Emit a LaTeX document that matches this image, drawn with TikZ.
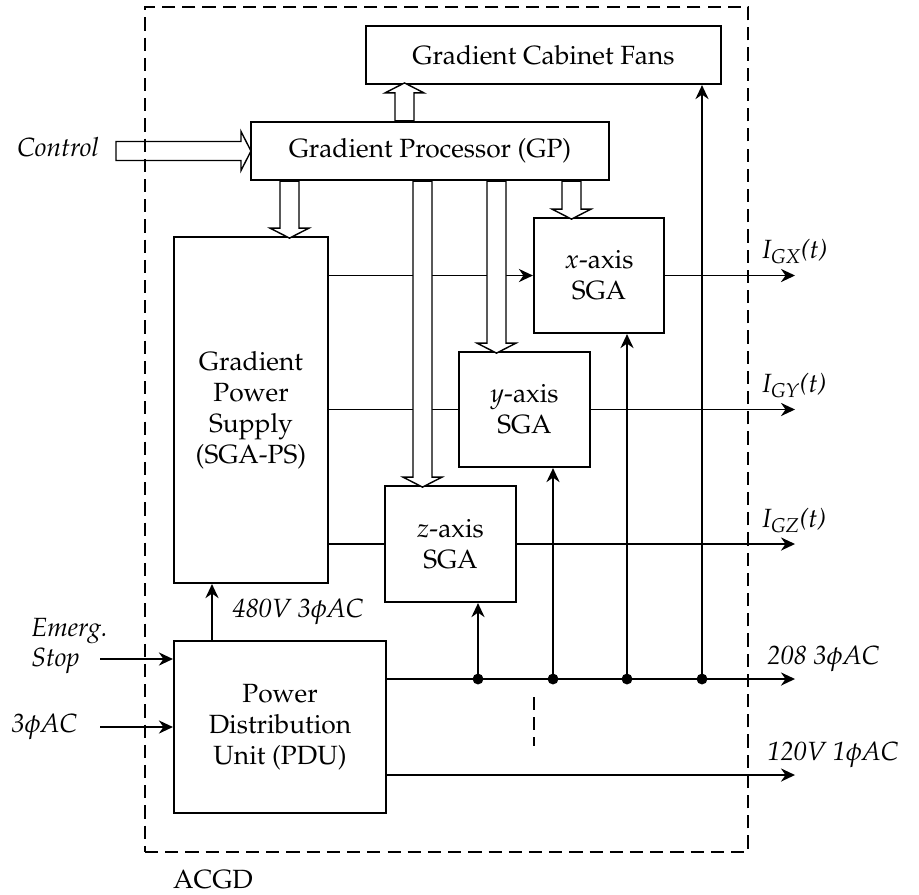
\documentclass[tikz,border=0pt]{standalone}
\usepackage[T1]{fontenc}
\usepackage{mathpazo}
\usetikzlibrary{arrows.meta}

\tikzset{
  block/.style={draw, line width=1.25pt, inner sep=0pt, align=center},
  sig/.style={line width=0.95pt},
  sigarrow/.style={sig, -{Stealth[length=8pt,width=7.5pt,inset=2.6pt]}},
  fatline/.style={draw, fill=white, line width=0.8pt},
  lbl/.style={inner sep=0pt, anchor=base west},
}
% hollow arrow: start, length, direction
\newcommand{\fatarrow}[3]{%
  \draw[fatline, shift={#1}, rotate=#3] (0,-9.5) -- (#2-10,-9.5) -- (#2-10,-19.5) -- (#2,0)
    -- (#2-10,19.5) -- (#2-10,9.5) -- (0,9.5) -- cycle;}

\begin{document}
\begin{tikzpicture}[x=0.02cm, y=-0.02cm, font=\fontsize{15}{17.6}\selectfont]
  \useasboundingbox (0,0) rectangle (919,894);

  \node[block, minimum width=7.1cm, minimum height=1.16cm] (fans) at (543.5,55) {Gradient Cabinet Fans};
  \node[block, minimum width=7.16cm, minimum height=1.16cm] (gp) at (430,151) {Gradient Processor (GP)};
  \node[block, minimum width=3.08cm, minimum height=6.92cm] (ps) at (251,410) {Gradient\\Power\\Supply\\(SGA-PS)};
  \node[block, minimum width=2.6cm, minimum height=2.3cm] (xsga) at (599,275.5) {$x$-axis\\SGA};
  \node[block, minimum width=2.62cm, minimum height=2.3cm] (ysga) at (524.5,409.5) {$y$-axis\\SGA};
  \node[block, minimum width=2.62cm, minimum height=2.32cm] (zsga) at (450.5,544) {$z$-axis\\SGA};
  \node[block, minimum width=4.24cm, minimum height=3.44cm] (pdu) at (280,727) {Power\\Distribution\\Unit (PDU)};

  \coordinate (ctrl) at (116,151);
  \coordinate (estop) at (100,659);
  \coordinate (acin) at (100,727);
  \coordinate (bus) at (386,679);
  \coordinate (mains) at (386,775);
  \coordinate (outend) at (795,0);

  % signal lines
  \draw[sigarrow] (ps.east |- xsga.west) -- (xsga.west);
  \draw[sig] (ps.east |- ysga.west) -- (ysga.west);
  \draw[sig] (ps.east |- zsga.west) -- (zsga.west);
  \draw[sigarrow] (xsga.east) -- (xsga.east -| outend);
  \draw[sigarrow] (ysga.east) -- (ysga.east -| outend);
  \draw[sigarrow] (zsga.east) -- (zsga.east -| outend);

  % power
  \draw[sigarrow] (bus) -- (bus -| outend);
  \draw[sigarrow] (mains) -- (mains -| outend);
  \foreach \xx/\tgt in {478/zsga, 553/ysga, 627/xsga, 702/fans} {
    \draw[sigarrow] (\xx,0 |- bus) -- (\xx,0 |- \tgt.south);
    \fill (\xx,0 |- bus) circle (3.1pt);
  }
  \draw[sig, dash pattern=on 7.5pt off 4pt] (534,697) -- (534,746);
  \draw[sigarrow] (212,0 |- pdu.north) -- (212,0 |- ps.south);
  \draw[sigarrow] (estop) -- (estop -| pdu.west);
  \draw[sigarrow] (acin) -- (pdu.west);

  % control paths
  \fatarrow{(ctrl)}{135}{0}
  \fatarrow{(404.5,0 |- gp.north)}{38}{90}
  \fatarrow{(289.5,0 |- gp.south)}{57}{-90}
  \fatarrow{(422.5,0 |- gp.south)}{306}{-90}
  \fatarrow{(496.5,0 |- gp.south)}{172}{-90}
  \fatarrow{(571.5,0 |- gp.south)}{38}{-90}

  \node[draw, line width=0.85pt, dash pattern=on 7.5pt off 4pt, minimum width=12.06cm, minimum height=16.9cm] (frame) at (446.5,429.5) {};

  % labels
  \node[lbl] (ctrltext) at (17,156) {\itshape Control};
  \node[inner sep=0pt, anchor=west, align=left] (estoptext) at (31,646) {\itshape Emerg.\\\itshape Stop};
  \node[lbl] (actext) at (11,732) {\textit{3$\phi$AC}};
  \node[lbl] (pstext) at (232,617) {\textit{480V 3$\phi$AC}};
  \node[lbl] (igx) at (762,258) {\textit{I$_{\mathit{GX}}$(t)}};
  \node[lbl] (igy) at (762,392) {\textit{I$_{\mathit{GY}}$(t)}};
  \node[lbl] (igz) at (762,527) {\textit{I$_{\mathit{GZ}}$(t)}};
  \node[lbl] (bustext) at (767,664) {\textit{208 3$\phi$AC}};
  \node[lbl] (mainstext) at (767,760) {\textit{120V 1$\phi$AC}};
  \node[inner sep=0pt, anchor=base] (acgd) at (213,888) {ACGD};
\end{tikzpicture}
\end{document}
